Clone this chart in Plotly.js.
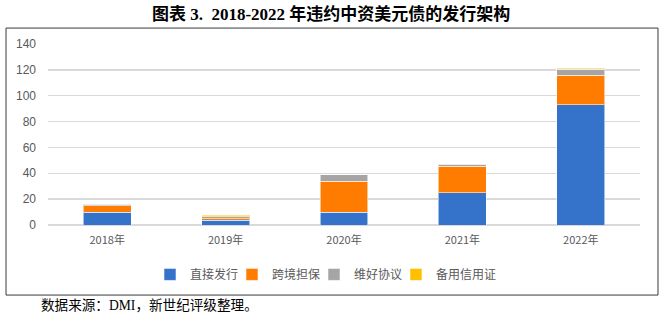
<!DOCTYPE html>
<html>
<head>
<meta charset="utf-8">
<script src="https://cdn.plot.ly/plotly-3.0.1.min.js"></script>
<style>html,body{margin:0;padding:0;background:#fff;}#chart{width:665px;height:321px;}</style>
</head>
<body>
<div id="chart"></div>
<script>
const categories = ["2018年", "2019年", "2020年", "2021年", "2022年"];
const seriesNames = ["直接发行", "跨境担保", "维好协议", "备用信用证"];
const directIssue = [10, 3.5, 10, 25, 93];
const crossGuarantee = [5, 1.5, 23.7, 20.5, 23];
const keepWell = [1.2, 1.2, 5.2, 1.3, 4.3];
const standbyLC = [0, 1.3, 0, 0, 0.8];
const yTickVals = [0, 20, 40, 60, 80, 100, 120, 140];
const colors = ["#3572C9", "#FF7C00", "#A5A5A5", "#FFC000"];

const values = [directIssue, crossGuarantee, keepWell, standbyLC];
const legendIds = ["legend", "legend2", "legend3", "legend4"];
const traces = values.map((v, i) => ({
  type: "bar",
  name: seriesNames[i],
  x: categories,
  y: v,
  legend: legendIds[i],
  marker: {color: colors[i], line: {color: "rgba(255,255,255,0.55)", width: 1}},
  hoverinfo: "x+y+name"
}));

const cjk = "'Noto Sans CJK SC', 'Liberation Sans', sans-serif";
const serif = "'Liberation Serif', 'Noto Sans CJK SC', serif";
const legendFont = {family: cjk, size: 12, color: "#595959"};
const legendX = [0.1723, 0.3108, 0.4493, 0.5878];

const layout = {
  width: 665, height: 321,
  margin: {l: 48, r: 25, t: 44, b: 96, autoexpand: false},
  barmode: "stack",
  bargap: 0.595,
  paper_bgcolor: "#fff",
  plot_bgcolor: "#fff",
  showlegend: true,
  title: {
    text: "<b>图表 3.  2018-2022 年违约中资美元债的发行架构</b>",
    x: 0.498, xanchor: "center", y: 0.957, yanchor: "middle",
    font: {family: serif, size: 17, color: "#000"}
  },
  xaxis: {
    type: "category",
    showgrid: false, zeroline: false, showline: false,
    ticks: "",
    ticklabelstandoff: 7,
    tickfont: {family: cjk, size: 11, color: "#595959"},
    fixedrange: true
  },
  yaxis: {
    range: [0, 140],
    tickvals: yTickVals,
    showgrid: true, gridcolor: "#D9D9D9", gridwidth: 1.3,
    zeroline: true, zerolinecolor: "#D9D9D9", zerolinewidth: 1.3,
    showline: false, ticks: "",
    ticklabelstandoff: 11,
    tickfont: {family: "'Liberation Sans', sans-serif", size: 12, color: "#595959"},
    fixedrange: true
  },
  shapes: [{
    type: "rect", xref: "paper", yref: "paper",
    x0: -0.0709, x1: 1.0304, y0: -0.387, y1: 1.088,
    line: {color: "#3a3a3a", width: 1}, fillcolor: "rgba(0,0,0,0)", layer: "below"
  }],
  annotations: [{
    text: "数据来源：DMI，新世纪评级整理。",
    xref: "paper", yref: "paper",
    x: -0.0152, y: -0.4475, xanchor: "left", yanchor: "middle",
    showarrow: false,
    font: {family: serif, size: 13.6, color: "#000"}
  }]
};
legendIds.forEach((id, i) => {
  layout[id] = {
    orientation: "h",
    x: legendX[i], xanchor: "left",
    y: -0.193, yanchor: "top",
    font: legendFont,
    itemwidth: 30,
    bgcolor: "rgba(0,0,0,0)"
  };
});

Plotly.newPlot("chart", traces, layout, {displayModeBar: false, staticPlot: true});
</script>
</body>
</html>
